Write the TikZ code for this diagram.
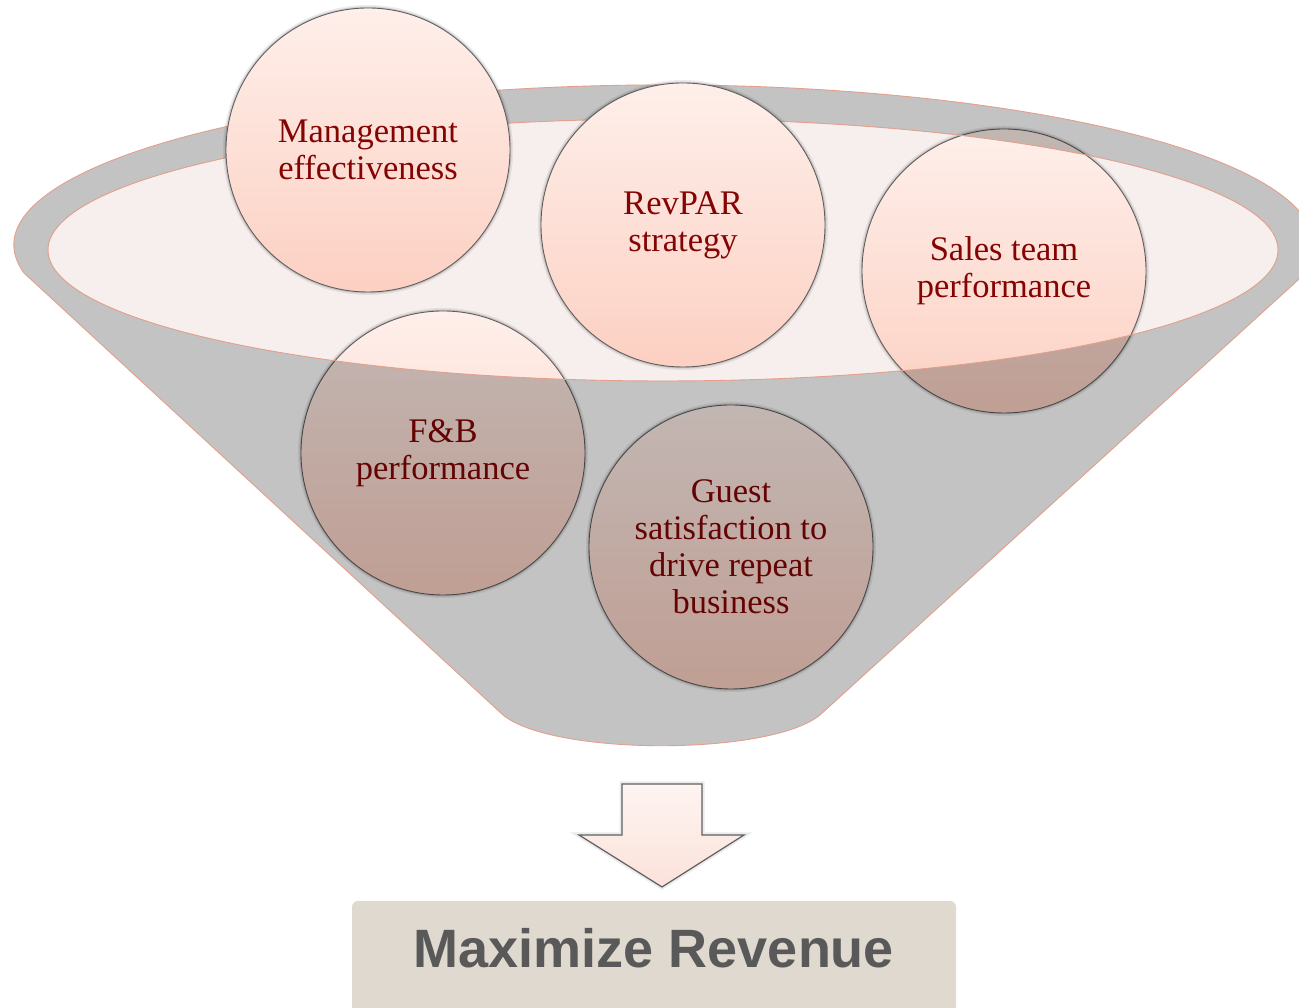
\documentclass[tikz,border=0pt]{standalone}
\usepackage{fontspec}
\setmainfont{Liberation Serif}
\newfontfamily\boxfont{Liberation Sans}
\usetikzlibrary{calc}
\definecolor{funnelgray}{RGB}{195,195,195}
\definecolor{innerpink}{RGB}{247,239,237}
\definecolor{edgesalmon}{RGB}{228,160,140}
\definecolor{bubbletop}{RGB}{254,239,234}
\definecolor{bubblebot}{RGB}{252,208,194}
\definecolor{bubbletext}{RGB}{132,4,4}
\definecolor{bubbleedge}{RGB}{95,95,95}
\definecolor{arrowtop}{RGB}{254,244,241}
\definecolor{arrowbot}{RGB}{251,226,218}
\definecolor{boxfill}{RGB}{224,217,207}
\definecolor{boxtext}{RGB}{89,89,89}
\tikzset{
  bubble/.style={circle, minimum size=284pt, inner sep=0pt,
    top color=bubbletop, bottom color=bubblebot,
    draw=bubbleedge, line width=0.9pt,
    preaction={draw=black, opacity=0.07, line width=6pt},
    preaction={draw=black, opacity=0.12, line width=3pt},
    text=bubbletext, align=center,
    font=\fontsize{34.5}{37}\selectfont},
  funnelline/.style={draw=edgesalmon, line width=0.9pt},
}
\begin{document}
\begin{tikzpicture}[x=1pt,y=1pt]
\useasboundingbox (0,0) rectangle (1299,1008);
\clip (0,0) rectangle (1299,1008);
% inner ellipse fill
\fill[innerpink] (663,758) ellipse[x radius=615, y radius=131];
% lower bubbles (behind the funnel)
\node[bubble] (sales) at (1004,737) {Sales team\\performance};
\node[bubble] (fb) at (443,555) {F\&B\\performance};
\node[bubble] (guest) at (731,461) {Guest\\satisfaction to\\drive repeat\\business};
% funnel body (multiplied over the lower bubbles)
\fill[funnelgray, blend mode=multiply, even odd rule]
  (24,735) arc[start angle=190.1, end angle=-12.6, x radius=650, y radius=160]
  -- (820,293) .. controls (770,252) and (553,252) .. (503,293) -- cycle
  (663,758) ellipse[x radius=615, y radius=131];
% funnel outlines
\draw[funnelline]
  (24,735) arc[start angle=190.1, end angle=-12.6, x radius=650, y radius=160]
  -- (820,293) .. controls (770,252) and (553,252) .. (503,293) -- cycle;
\draw[funnelline] (663,758) ellipse[x radius=615, y radius=131];
% upper bubbles
\node[bubble] (mgmt) at (368,858) {Management\\effectiveness};
\node[bubble] (revpar) at (683,783) {RevPAR\\strategy};
% down arrow
\draw[top color=arrowtop, bottom color=arrowbot, draw=bubbleedge, line width=1.2pt,
      preaction={draw=black, opacity=0.08, line width=5pt}]
  (622,224) -- (702,224) -- (702,173) -- (744,173) -- (662,121)
  -- (579,173) -- (622,173) -- cycle;
% result box
\node[rectangle, rounded corners=6pt, fill=boxfill, minimum width=604pt,
      minimum height=120pt, inner sep=0pt] (box) at (654,47) {};
\node[anchor=base, inner sep=0pt, text=boxtext,
      font=\boxfont\bfseries\fontsize{54}{60}\selectfont] (maxrev) at (654,40)
  {Maximize Revenue};
\end{tikzpicture}
\end{document}
